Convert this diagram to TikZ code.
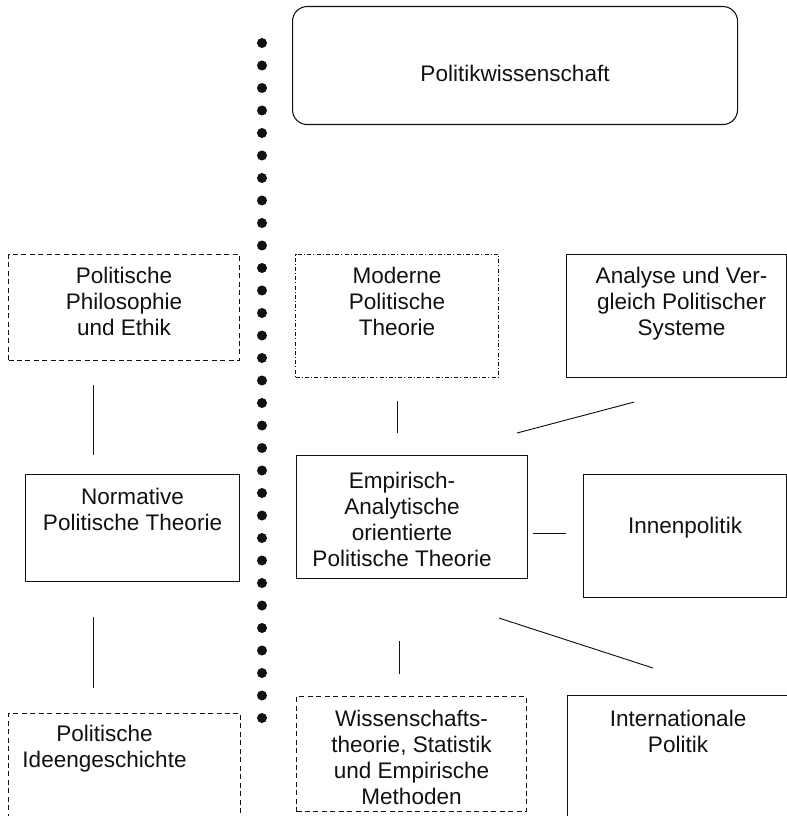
\documentclass[tikz,border=0pt]{standalone}
\usepackage{fontspec}
\setmainfont{Liberation Sans}
\usepackage{xcolor}
\usepackage{tikz}
\usetikzlibrary{calc}
\definecolor{ink}{HTML}{111111}
\tikzset{
  box/.style={draw=ink, line width=0.8pt, anchor=north west, inner sep=0pt},
  dbox/.style={box, dash pattern=on 3.75pt off 2.6pt},
  ddbox/.style={box, dash pattern=on 3pt off 1.6pt on 0.8pt off 1.6pt},
  rbox/.style={box, rounded corners=11pt},
  txt/.style={text=ink, anchor=north, align=center, inner sep=0pt,
    font=\fontsize{16.9}{19.5}\selectfont},
  conn/.style={draw=ink, line width=0.7pt},
  dot/.style={fill=ink},
}

\begin{document}
\begin{tikzpicture}[x=0.75pt, y=-0.75pt]
  \clip (0,0) rectangle (787,816);
  % boxes
  \node[rbox, minimum width=333.75pt, minimum height=88.5pt] (pw) at (292,6) {};
  \node[dbox, minimum width=173.25pt, minimum height=79.5pt] (phil) at (8,254) {};
  \node[ddbox, minimum width=152.25pt, minimum height=92.25pt] (mod) at (295,254) {};
  \node[box, minimum width=165pt, minimum height=92.25pt] (ana) at (566,254) {};
  \node[box, minimum width=160.5pt, minimum height=80.25pt] (norm) at (25,474) {};
  \node[box, minimum width=173.25pt, minimum height=92.25pt] (emp) at (296,455) {};
  \node[box, minimum width=152.25pt, minimum height=92.25pt] (inn) at (583,474) {};
  \node[dbox, minimum width=174pt, minimum height=97.5pt] (ideen) at (8,713) {};
  \node[dbox, minimum width=172.5pt, minimum height=86.25pt] (wis) at (296,696) {};
  \node[box, minimum width=168.75pt, minimum height=97.5pt] (int) at (567,695) {};

  % texts
  \node[txt] (pw-t) at ($(pw.north)+(0,59)$) {Politikwissenschaft};
  \node[txt] (phil-t) at ($(phil.north)+(0,13)$) {Politische\\Philosophie\\und Ethik};
  \node[txt] (mod-t) at ($(mod.north)+(0,13)$) {Moderne\\Politische\\Theorie};
  \node[txt] (ana-t) at ($(ana.north)+(5,13)$) {Analyse und Ver-\\gleich Politischer\\Systeme};
  \node[txt] (norm-t) at ($(norm.north)+(0,14)$) {Normative\\Politische Theorie};
  \node[txt] (emp-t) at ($(emp.north)+(-10,17)$) {Empirisch-\\Analytische\\orientierte\\Politische Theorie};
  \node[txt] (inn-t) at ($(inn.north)+(0,43)$) {Innenpolitik};
  \node[txt] (ideen-t) at ($(ideen.north)+(-20,12)$) {Politische\\Ideengeschichte};
  \node[txt] (wis-t) at ($(wis.north)+(0,14)$) {Wissenschafts-\\theorie, Statistik\\und Empirische\\Methoden};
  \node[txt] (int-t) at ($(int.north)+(-2,15)$) {Internationale\\Politik};

  % dotted divider
  \foreach \i in {0,...,30}
    \fill[dot] (262,43+22.5*\i) circle (3.75pt);

  % connectors
  \draw[conn] ($(phil.south west)+(85,24)$) -- ($(norm.north west)+(68,-19)$);
  \draw[conn] ($(norm.south west)+(68,35)$) -- ($(ideen.north west)+(85,-25)$);
  \draw[conn] ($(mod.south)+(0,23)$) -- ($(emp.north)+(-15,-22)$);
  \draw[conn] ($(emp.south)+(-13,62)$) -- ($(wis.north)+(-12.5,-22)$);
  \draw[conn] ($(emp.north east)+(-11,-22)$) -- ($(ana.south west)+(68,24)$);
  \draw[conn] ($(emp.east)+(5,16.5)$) -- ($(inn.west)+(-17,-2.5)$);
  \draw[conn] ($(emp.south east)+(-29,39)$) -- ($(int.north west)+(86,-27)$);
\end{tikzpicture}
\end{document}
